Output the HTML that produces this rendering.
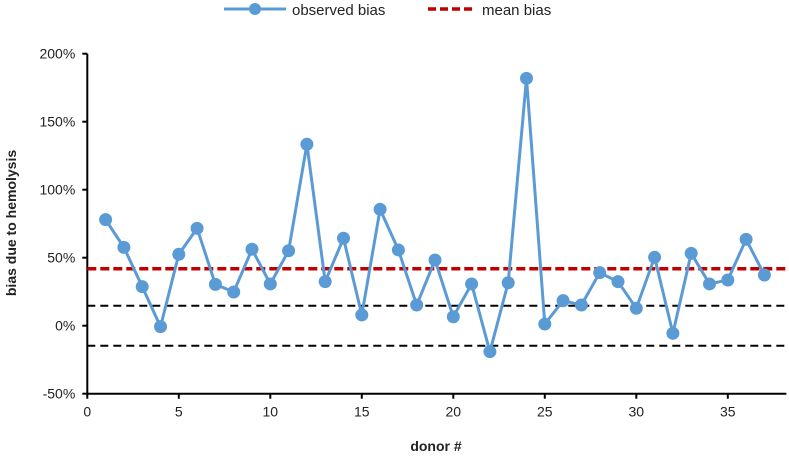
<!DOCTYPE html>
<html><head><meta charset="utf-8"><style>
body{margin:0;background:#fff}
svg text{font-family:"Liberation Sans",sans-serif;fill:#222}
</style></head><body>
<svg id="chart" width="789" height="455">
<g id="legend">
 <g>
  <line x1="224" y1="9" x2="286" y2="9" stroke="#5B9BD5" stroke-width="3"/>
  <circle cx="255" cy="9" r="6" fill="#5B9BD5"/>
  <text x="292" y="15" font-size="15">observed bias</text>
 </g>
 <g>
  <line x1="428" y1="9" x2="476" y2="9" stroke="#C00000" stroke-width="3.5" stroke-dasharray="8,4"/>
  <text x="482" y="15" font-size="15">mean bias</text>
 </g>
</g>
<text transform="translate(16,223) rotate(-90)" text-anchor="middle" font-size="14" font-weight="bold">bias due to hemolysis</text>
<text x="436" y="451" text-anchor="middle" font-size="14" font-weight="bold">donor #</text>
<g id="plot"></g>
</svg>
<script>
const donors=[1,2,3,4,5,6,7,8,9,10,11,12,13,14,15,16,17,18,19,20,21,22,23,24,25,26,27,28,29,30,31,32,33,34,35,36,37];
const bias=[78,57.6,28.7,-0.7,52.5,71.6,30.4,24.8,56.2,30.7,55.1,133.4,32.4,64.3,7.9,85.6,55.7,15.2,48.3,6.6,30.7,-19.1,31.6,181.9,1.2,18.4,15.2,39,32.4,12.8,50.3,-5.6,53.2,30.7,33.6,63.5,37.3];
const meanBias=[41.9];
const limits=[14.7,-14.7];
const yTicks=[-50,0,50,100,150,200];
const xTicks=[0,5,10,15,20,25,30,35];
const X0=87.3,XS=18.3,Y0=325.7,YS=68/50;
const sx=v=>X0+v*XS, sy=v=>Y0-v*YS;
const ns="http://www.w3.org/2000/svg";
const g=document.getElementById('plot');
function mk(t,a,p){const e=document.createElementNS(ns,t);for(const k in a)e.setAttribute(k,a[k]);(p||g).appendChild(e);return e;}
const yAxis=mk('line',{x1:X0,y1:sy(200),x2:X0,y2:sy(-50),stroke:'#000','stroke-width':2});


const xAxis=mk('line',{x1:X0,y1:sy(-50),x2:sx(38.2),y2:sy(-50),stroke:'#000','stroke-width':2});


yTicks.forEach(v=>{
 mk('line',{x1:X0-5,y1:sy(v),x2:X0,y2:sy(v),stroke:'#000','stroke-width':2});
 const t=mk('text',{x:X0-12,y:sy(v)+5,'text-anchor':'end','font-size':14});
 t.textContent=v+'%';
 
 
});
xTicks.forEach(v=>{
 mk('line',{x1:sx(v),y1:sy(-50),x2:sx(v),y2:sy(-50)+5,stroke:'#000','stroke-width':2});
 const t=mk('text',{x:sx(v),y:sy(-50)+23,'text-anchor':'middle','font-size':14});
 t.textContent=v;
 
 
});
limits.forEach(v=>{
 const l=mk('line',{x1:X0,y1:sy(v),x2:sx(38.2),y2:sy(v),stroke:'#000','stroke-width':2,'stroke-dasharray':'8,5'});
 
 
});
const ml=mk('line',{x1:X0,y1:sy(meanBias[0]),x2:sx(38.2),y2:sy(meanBias[0]),stroke:'#C00000','stroke-width':3.5,'stroke-dasharray':'9,4'});


const pl=mk('polyline',{points:donors.map((d,i)=>sx(d)+','+sy(bias[i])).join(' '),fill:'none',stroke:'#5B9BD5','stroke-width':3});


donors.forEach((d,i)=>{
 const c=mk('circle',{cx:sx(d),cy:sy(bias[i]),r:6.5,fill:'#5B9BD5'});
 
 
});
</script>
</body></html>
